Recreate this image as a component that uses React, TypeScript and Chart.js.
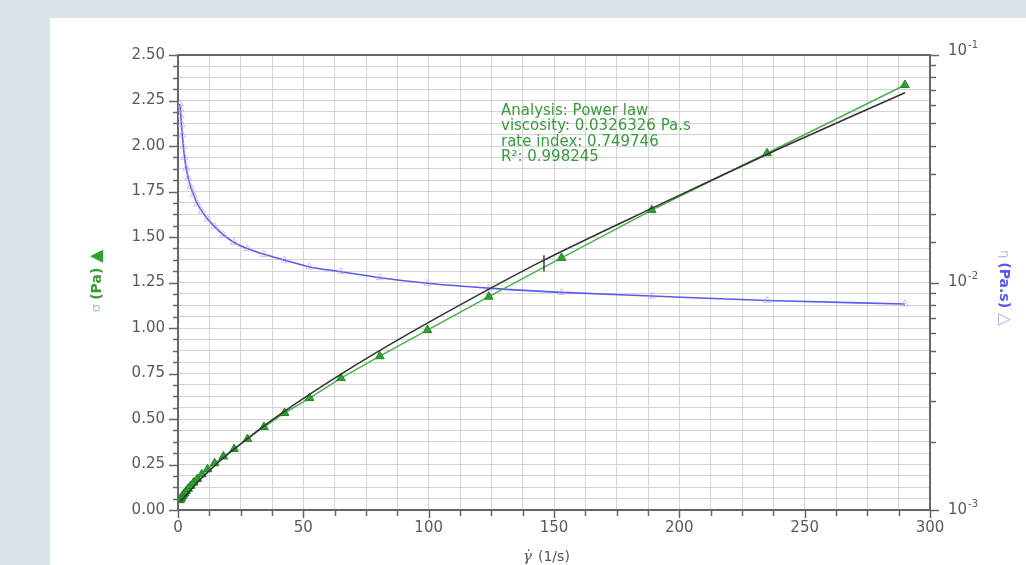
import React, { useEffect, useRef } from 'react';
import { Chart, registerables } from 'chart.js';

Chart.register(...registerables);

// Shear rate (1/s) of the measured points
const shearRate = [0.73, 0.9, 1.12, 1.39, 1.72, 2.13, 2.64, 3.27, 4.05, 5.0, 6.2, 7.7, 9.5, 11.8, 14.6, 18.1, 22.4, 27.7, 34.3, 42.5, 52.5, 65, 80.5, 99.5, 124, 153, 189, 235, 290];
// Shear stress (Pa), green triangles
const shearStress = [0.054, 0.058, 0.063, 0.069, 0.076, 0.084, 0.093, 0.104, 0.117, 0.132, 0.151, 0.171, 0.196, 0.224, 0.257, 0.294, 0.335, 0.39, 0.456, 0.533, 0.615, 0.725, 0.845, 0.988, 1.172, 1.385, 1.648, 1.96, 2.335];
// Viscosity (Pa.s), blue open triangles, right log axis
const viscosity = [0.061, 0.058, 0.054, 0.0495, 0.0445, 0.0395, 0.0355, 0.0318, 0.0289, 0.0264, 0.0244, 0.0222, 0.0206, 0.019, 0.0176, 0.0162, 0.015, 0.0141, 0.0133, 0.01254, 0.0117, 0.01115, 0.0105, 0.00993, 0.00945, 0.00905, 0.00872, 0.00834, 0.00805];
// Power-law fit curve (black)
const fitRate = [0.8, 2, 5, 10, 20, 40, 70, 100, 145, 190, 240, 290];
const fitStress = [0.045, 0.062, 0.109, 0.183, 0.308, 0.519, 0.789, 1.031, 1.366, 1.664, 1.986, 2.293];
// Small vertical marker on the fit curve
const markerRate = [146, 146];
const markerStress = [1.31, 1.4];

// Axis settings / labels
const xMin = 0, xMax = 300, xStep = 12.5, xLabelEvery = 50;
const yMin = 0, yMax = 2.5, yStep = 0.0625, yLabelEvery = 0.25;
const y2Min = 0.001, y2Max = 0.1;
const y2Labels = [{ v: 0.1, base: '10', exp: '-1' }, { v: 0.01, base: '10', exp: '-2' }, { v: 0.001, base: '10', exp: '-3' }];
const annotationLines = ['Analysis: Power law', 'viscosity: 0.0326326 Pa.s', 'rate index: 0.749746', 'R²: 0.998245'];

const FONT = '"DejaVu Sans", Arial, sans-serif';
const AXIS = '#666666';
const LABEL = '#5a5a5a';

const decorPlugin = {
  id: 'decor',
  afterDraw(chart: any) {
    const { ctx, chartArea, scales } = chart;
    const { left, right, top, bottom } = chartArea;
    const x = scales.x, y = scales.y, y2 = scales.y2;
    ctx.save();
    // top frame line
    ctx.strokeStyle = AXIS;
    ctx.lineWidth = 2;
    ctx.beginPath();
    ctx.moveTo(left, top);
    ctx.lineTo(right, top);
    ctx.stroke();

    ctx.lineWidth = 1.5;
    // left ticks
    y.ticks.forEach((t: any) => {
      const p = Math.round(y.getPixelForValue(t.value)) + 0.5;
      const r = t.value / yLabelEvery;
      const major = Math.abs(r - Math.round(r)) < 1e-6;
      ctx.beginPath();
      ctx.moveTo(left - (major ? 9 : 5), p);
      ctx.lineTo(left, p);
      ctx.stroke();
    });
    // bottom ticks
    x.ticks.forEach((t: any) => {
      const p = Math.round(x.getPixelForValue(t.value)) + 0.5;
      const major = Math.abs(t.value % xLabelEvery) < 1e-6;
      ctx.beginPath();
      ctx.moveTo(p, bottom);
      ctx.lineTo(p, bottom + (major ? 8 : 6));
      ctx.stroke();
    });
    // right log ticks
    y2.ticks.forEach((t: any) => {
      const p = Math.round(y2.getPixelForValue(t.value)) + 0.5;
      const lg = Math.log10(t.value);
      const major = Math.abs(lg - Math.round(lg)) < 1e-6;
      ctx.beginPath();
      ctx.moveTo(right, p);
      ctx.lineTo(right + (major ? 9 : 6), p);
      ctx.stroke();
    });
    // right labels with superscript
    ctx.fillStyle = LABEL;
    ctx.textBaseline = 'middle';
    ctx.textAlign = 'left';
    y2Labels.forEach((l) => {
      const p = y2.getPixelForValue(l.v);
      const py = l.v === y2Max ? p - 4 : p;
      ctx.font = `15px ${FONT}`;
      ctx.fillText(l.base, right + 18, py);
      const w = ctx.measureText(l.base).width;
      ctx.font = `10px ${FONT}`;
      ctx.fillText(l.exp, right + 19 + w, py - 6);
    });

    // annotation
    ctx.fillStyle = '#3a9a3a';
    ctx.font = `15px ${FONT}`;
    ctx.textBaseline = 'middle';
    annotationLines.forEach((s, i) => {
      ctx.fillText(s, 501, 111 + i * 15.5);
    });

    // left axis title (rotated)
    ctx.save();
    ctx.translate(97, 281);
    ctx.rotate(-Math.PI / 2);
    const partsL = [
      { t: 'σ ', c: '#9ad49a', f: `13px ${FONT}` },
      { t: '(Pa) ', c: '#3a9a3a', f: `bold 14px ${FONT}` },
      { t: '▲', c: '#2ea12e', f: `17px ${FONT}` },
    ];
    let tw = 0;
    partsL.forEach((p) => { ctx.font = p.f; tw += ctx.measureText(p.t).width; });
    let cx = -tw / 2;
    ctx.textAlign = 'left';
    ctx.textBaseline = 'middle';
    partsL.forEach((p) => { ctx.font = p.f; ctx.fillStyle = p.c; ctx.fillText(p.t, cx, 0); cx += ctx.measureText(p.t).width; });
    ctx.restore();

    // right axis title (rotated)
    ctx.save();
    ctx.translate(1004, 288);
    ctx.rotate(Math.PI / 2);
    const partsR = [
      { t: 'η ', c: '#b8b8f2', f: `13px ${FONT}` },
      { t: '(Pa.s) ', c: '#5656ee', f: `bold 14px ${FONT}` },
      { t: '△', c: '#b4b4f2', f: `17px ${FONT}` },
    ];
    tw = 0;
    partsR.forEach((p) => { ctx.font = p.f; tw += ctx.measureText(p.t).width; });
    cx = -tw / 2;
    ctx.textAlign = 'left';
    ctx.textBaseline = 'middle';
    partsR.forEach((p) => { ctx.font = p.f; ctx.fillStyle = p.c; ctx.fillText(p.t, cx, 0); cx += ctx.measureText(p.t).width; });
    ctx.restore();

    // x axis title
    ctx.fillStyle = '#555555';
    ctx.textBaseline = 'middle';
    ctx.textAlign = 'left';
    ctx.font = `italic 15px "DejaVu Serif", serif`;
    ctx.fillText('γ̇', 523, 557);
    ctx.font = `14px ${FONT}`;
    ctx.fillText('(1/s)', 538, 557);

    ctx.restore();
  },
};

export default function App() {
  const ref = useRef<HTMLCanvasElement>(null);

  useEffect(() => {
    if (!ref.current) return;
    const pts = (xs: number[], ys: number[]) => xs.map((v, i) => ({ x: v, y: ys[i] }));
    const chart = new Chart(ref.current, {
      type: 'scatter',
      data: {
        datasets: [
          {
            label: 'fit',
            data: pts(fitRate, fitStress),
            showLine: true,
            borderColor: '#333333',
            borderWidth: 1.6,
            pointRadius: 0,
            tension: 0.3,
            yAxisID: 'y',
            order: 0,
          },
          {
            label: 'marker',
            data: pts(markerRate, markerStress),
            showLine: true,
            borderColor: '#222222',
            borderWidth: 1.3,
            pointRadius: 0,
            yAxisID: 'y',
            order: 0,
          },
          {
            label: 'stress',
            data: pts(shearRate, shearStress),
            showLine: true,
            borderColor: '#4cb04c',
            borderWidth: 1.5,
            pointStyle: 'triangle',
            pointRadius: 5,
            pointBackgroundColor: '#2ea12e',
            pointBorderColor: '#24862a',
            pointBorderWidth: 1,
            yAxisID: 'y',
            order: 1,
          },
          {
            label: 'viscosity',
            data: pts(shearRate, viscosity),
            showLine: true,
            borderColor: '#5a5af0',
            borderWidth: 1.6,
            pointStyle: 'triangle',
            pointRadius: 4,
            pointBackgroundColor: 'rgba(255,255,255,0)',
            pointBorderColor: 'rgba(175,175,245,0.75)',
            pointBorderWidth: 1,
            cubicInterpolationMode: 'monotone',
            yAxisID: 'y2',
            order: 2,
          },
        ],
      },
      options: {
        animation: false,
        responsive: false,
        maintainAspectRatio: false,
        layout: { padding: { top: 55, left: 0, right: 0, bottom: 0 } },
        plugins: { legend: { display: false }, tooltip: { enabled: false } },
        scales: {
          x: {
            type: 'linear',
            position: 'bottom',
            min: xMin,
            max: xMax,
            ticks: {
              stepSize: xStep,
              autoSkip: false,
              maxRotation: 0,
              padding: 9,
              color: LABEL,
              font: { family: FONT, size: 15 },
              callback: (v: any) => (Math.abs(v % xLabelEvery) < 1e-6 ? String(v) : ''),
            },
            grid: { color: '#d3d3d3', lineWidth: 1, drawTicks: false },
            border: { color: AXIS, width: 2 },
            afterFit: (s: any) => { s.height = 55; },
          },
          y: {
            type: 'linear',
            position: 'left',
            min: yMin,
            max: yMax,
            ticks: {
              stepSize: yStep,
              autoSkip: false,
              padding: 13,
              color: LABEL,
              font: { family: FONT, size: 15 },
              callback: (v: any) => {
                const r = v / yLabelEvery;
                return Math.abs(r - Math.round(r)) < 1e-6 ? Number(v).toFixed(2) : '';
              },
            },
            grid: { color: '#d3d3d3', lineWidth: 1, drawTicks: false },
            border: { color: AXIS, width: 2 },
            afterFit: (s: any) => { s.width = 178; },
          },
          y2: {
            type: 'logarithmic',
            position: 'right',
            min: y2Min,
            max: y2Max,
            ticks: { display: false, autoSkip: false },
            grid: { display: false, drawTicks: false },
            border: { color: AXIS, width: 2 },
            afterFit: (s: any) => { s.width = 96; },
          },
        },
      },
      plugins: [decorPlugin],
    } as any);
    return () => chart.destroy();
  }, []);

  return (
    <div style={{ position: 'fixed', left: 0, top: 0, width: 1026, height: 565, background: '#d9e4eb', overflow: 'hidden' }}>
      <div style={{ position: 'absolute', left: 50, top: 18, width: 976, height: 547, background: '#ffffff' }} />
      <canvas ref={ref} width={1026} height={565} style={{ position: 'absolute', left: 0, top: 0, width: 1026, height: 565 }} />
    </div>
  );
}
